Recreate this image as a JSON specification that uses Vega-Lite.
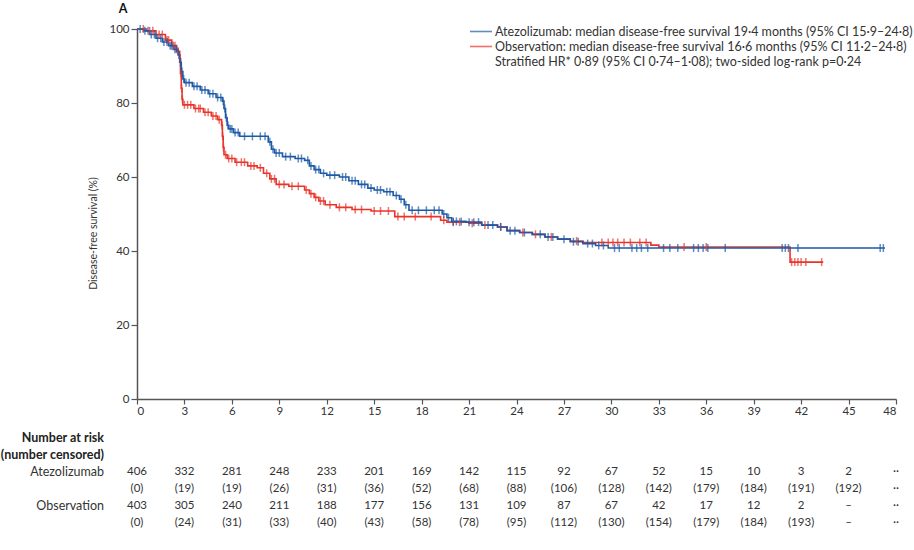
{
  "$schema": "https://vega.github.io/schema/vega-lite/v6.json",
  "background": "white",
  "padding": {"left": 0, "top": 3, "right": 5, "bottom": 0},
  "spacing": 12,
  "config": {
    "view": {"stroke": null},
    "font": "Lato",
    "text": {"font": "Lato"}
  },
  "datasets": {
    "curves": [
      {"arm":"Observation","month":0,"surv":100},{"arm":"Observation","month":0.6,"surv":99.5},{"arm":"Observation","month":1.2,"surv":98.5},{"arm":"Observation","month":1.8,"surv":97},{"arm":"Observation","month":2.2,"surv":95.5},{"arm":"Observation","month":2.5,"surv":94},{"arm":"Observation","month":2.7,"surv":92},{"arm":"Observation","month":2.75,"surv":88},{"arm":"Observation","month":2.8,"surv":84},{"arm":"Observation","month":2.85,"surv":81},{"arm":"Observation","month":2.9,"surv":79.5},{"arm":"Observation","month":3.6,"surv":78.5},{"arm":"Observation","month":4.2,"surv":77.5},{"arm":"Observation","month":4.7,"surv":76.5},{"arm":"Observation","month":5.1,"surv":75.5},{"arm":"Observation","month":5.35,"surv":74},{"arm":"Observation","month":5.4,"surv":71},{"arm":"Observation","month":5.45,"surv":68},{"arm":"Observation","month":5.5,"surv":66},{"arm":"Observation","month":5.7,"surv":65},{"arm":"Observation","month":6.2,"surv":64},{"arm":"Observation","month":7.0,"surv":63},{"arm":"Observation","month":7.6,"surv":62.5},{"arm":"Observation","month":8.0,"surv":61},{"arm":"Observation","month":8.4,"surv":59.5},{"arm":"Observation","month":8.8,"surv":58},{"arm":"Observation","month":9.6,"surv":57.5},{"arm":"Observation","month":10.6,"surv":56.5},{"arm":"Observation","month":10.9,"surv":55.5},{"arm":"Observation","month":11.2,"surv":54.5},{"arm":"Observation","month":11.5,"surv":53.5},{"arm":"Observation","month":11.9,"surv":52.5},{"arm":"Observation","month":12.6,"surv":51.8},{"arm":"Observation","month":13.6,"surv":51.2},{"arm":"Observation","month":14.8,"surv":50.8},{"arm":"Observation","month":16.3,"surv":49.3},{"arm":"Observation","month":19.2,"surv":48.3},{"arm":"Observation","month":19.6,"surv":47.8},{"arm":"Observation","month":21.0,"surv":47.5},{"arm":"Observation","month":21.8,"surv":47},{"arm":"Observation","month":22.8,"surv":46.5},{"arm":"Observation","month":23.4,"surv":45.5},{"arm":"Observation","month":24.2,"surv":45},{"arm":"Observation","month":25.0,"surv":44.5},{"arm":"Observation","month":25.8,"surv":43.8},{"arm":"Observation","month":26.6,"surv":43.2},{"arm":"Observation","month":27.4,"surv":42.7},{"arm":"Observation","month":28.2,"surv":42.3},{"arm":"Observation","month":32.5,"surv":41.6},{"arm":"Observation","month":33.0,"surv":41.1},{"arm":"Observation","month":41.3,"surv":37},{"arm":"Observation","month":43.4,"surv":37},
      {"arm":"Atezolizumab","month":0,"surv":100},{"arm":"Atezolizumab","month":0.4,"surv":99.5},{"arm":"Atezolizumab","month":0.8,"surv":98.5},{"arm":"Atezolizumab","month":1.2,"surv":97.5},{"arm":"Atezolizumab","month":1.6,"surv":96.5},{"arm":"Atezolizumab","month":2.0,"surv":95.5},{"arm":"Atezolizumab","month":2.3,"surv":94.5},{"arm":"Atezolizumab","month":2.6,"surv":93},{"arm":"Atezolizumab","month":2.7,"surv":91},{"arm":"Atezolizumab","month":2.8,"surv":88.5},{"arm":"Atezolizumab","month":2.9,"surv":86.5},{"arm":"Atezolizumab","month":3.0,"surv":85.5},{"arm":"Atezolizumab","month":3.5,"surv":84.5},{"arm":"Atezolizumab","month":4.0,"surv":83.5},{"arm":"Atezolizumab","month":4.5,"surv":82.5},{"arm":"Atezolizumab","month":5.0,"surv":81.5},{"arm":"Atezolizumab","month":5.4,"surv":80.5},{"arm":"Atezolizumab","month":5.5,"surv":78.5},{"arm":"Atezolizumab","month":5.6,"surv":76},{"arm":"Atezolizumab","month":5.7,"surv":74},{"arm":"Atezolizumab","month":5.8,"surv":73},{"arm":"Atezolizumab","month":6.1,"surv":72},{"arm":"Atezolizumab","month":6.5,"surv":71},{"arm":"Atezolizumab","month":8.3,"surv":69.5},{"arm":"Atezolizumab","month":8.5,"surv":67.5},{"arm":"Atezolizumab","month":8.7,"surv":66.5},{"arm":"Atezolizumab","month":9.2,"surv":65.5},{"arm":"Atezolizumab","month":10.0,"surv":65},{"arm":"Atezolizumab","month":10.6,"surv":64.5},{"arm":"Atezolizumab","month":10.9,"surv":63},{"arm":"Atezolizumab","month":11.2,"surv":62},{"arm":"Atezolizumab","month":11.6,"surv":61},{"arm":"Atezolizumab","month":12.0,"surv":60.5},{"arm":"Atezolizumab","month":12.8,"surv":60},{"arm":"Atezolizumab","month":13.4,"surv":59},{"arm":"Atezolizumab","month":14.0,"surv":58},{"arm":"Atezolizumab","month":14.6,"surv":57},{"arm":"Atezolizumab","month":15.0,"surv":56.5},{"arm":"Atezolizumab","month":15.6,"surv":56},{"arm":"Atezolizumab","month":16.2,"surv":55},{"arm":"Atezolizumab","month":16.6,"surv":54},{"arm":"Atezolizumab","month":16.9,"surv":52.5},{"arm":"Atezolizumab","month":17.2,"surv":51},{"arm":"Atezolizumab","month":19.3,"surv":50},{"arm":"Atezolizumab","month":19.6,"surv":49},{"arm":"Atezolizumab","month":19.9,"surv":48},{"arm":"Atezolizumab","month":20.8,"surv":47.8},{"arm":"Atezolizumab","month":21.8,"surv":47},{"arm":"Atezolizumab","month":22.8,"surv":46.5},{"arm":"Atezolizumab","month":23.4,"surv":45.5},{"arm":"Atezolizumab","month":24.2,"surv":45},{"arm":"Atezolizumab","month":25.0,"surv":44.5},{"arm":"Atezolizumab","month":25.8,"surv":43.8},{"arm":"Atezolizumab","month":26.6,"surv":43.2},{"arm":"Atezolizumab","month":27.4,"surv":42.5},{"arm":"Atezolizumab","month":28.2,"surv":42},{"arm":"Atezolizumab","month":29.0,"surv":41.5},{"arm":"Atezolizumab","month":29.8,"surv":40.8},{"arm":"Atezolizumab","month":47.3,"surv":40.8}
    ],
    "censors": [
      {"arm":"Observation","month":0.4,"surv":100},{"arm":"Observation","month":0.8,"surv":99.5},{"arm":"Observation","month":1.0,"surv":99.5},{"arm":"Observation","month":1.4,"surv":98.5},{"arm":"Observation","month":1.6,"surv":98.5},{"arm":"Observation","month":1.9,"surv":97},{"arm":"Observation","month":2.0,"surv":97},{"arm":"Observation","month":2.3,"surv":95.5},{"arm":"Observation","month":2.4,"surv":95.5},{"arm":"Observation","month":2.6,"surv":94},{"arm":"Observation","month":2.72,"surv":92},{"arm":"Observation","month":2.78,"surv":88},{"arm":"Observation","month":2.82,"surv":84},{"arm":"Observation","month":2.87,"surv":81},{"arm":"Observation","month":3.0,"surv":79.5},{"arm":"Observation","month":3.2,"surv":79.5},{"arm":"Observation","month":3.4,"surv":79.5},{"arm":"Observation","month":3.7,"surv":78.5},{"arm":"Observation","month":3.9,"surv":78.5},{"arm":"Observation","month":4.0,"surv":78.5},{"arm":"Observation","month":4.3,"surv":77.5},{"arm":"Observation","month":4.5,"surv":77.5},{"arm":"Observation","month":4.8,"surv":76.5},{"arm":"Observation","month":5.0,"surv":76.5},{"arm":"Observation","month":5.2,"surv":75.5},{"arm":"Observation","month":5.38,"surv":74},{"arm":"Observation","month":5.42,"surv":71},{"arm":"Observation","month":5.47,"surv":68},{"arm":"Observation","month":5.6,"surv":66},{"arm":"Observation","month":5.8,"surv":65},{"arm":"Observation","month":6.0,"surv":65},{"arm":"Observation","month":6.3,"surv":64},{"arm":"Observation","month":6.6,"surv":64},{"arm":"Observation","month":6.8,"surv":64},{"arm":"Observation","month":7.2,"surv":63},{"arm":"Observation","month":7.4,"surv":63},{"arm":"Observation","month":7.8,"surv":62.5},{"arm":"Observation","month":8.2,"surv":61},{"arm":"Observation","month":8.5,"surv":59.5},{"arm":"Observation","month":8.7,"surv":59.5},{"arm":"Observation","month":9.0,"surv":58},{"arm":"Observation","month":9.3,"surv":58},{"arm":"Observation","month":9.8,"surv":57.5},{"arm":"Observation","month":10.2,"surv":57.5},{"arm":"Observation","month":10.7,"surv":56.5},{"arm":"Observation","month":11.0,"surv":55.5},{"arm":"Observation","month":11.3,"surv":54.5},{"arm":"Observation","month":11.6,"surv":53.5},{"arm":"Observation","month":11.8,"surv":53.5},{"arm":"Observation","month":12.2,"surv":52.5},{"arm":"Observation","month":12.8,"surv":51.8},{"arm":"Observation","month":13.2,"surv":51.8},{"arm":"Observation","month":13.8,"surv":51.2},{"arm":"Observation","month":14.2,"surv":51.2},{"arm":"Observation","month":15.0,"surv":50.8},{"arm":"Observation","month":15.4,"surv":50.8},{"arm":"Observation","month":15.9,"surv":50.8},{"arm":"Observation","month":16.5,"surv":49.3},{"arm":"Observation","month":16.9,"surv":49.3},{"arm":"Observation","month":17.6,"surv":49.3},{"arm":"Observation","month":18.6,"surv":49.3},{"arm":"Observation","month":19.4,"surv":48.3},{"arm":"Observation","month":20.0,"surv":47.8},{"arm":"Observation","month":20.4,"surv":47.8},{"arm":"Observation","month":21.2,"surv":47.5},{"arm":"Observation","month":22.0,"surv":47},{"arm":"Observation","month":23.0,"surv":46.5},{"arm":"Observation","month":24.4,"surv":45},{"arm":"Observation","month":25.2,"surv":44.5},{"arm":"Observation","month":26.2,"surv":43.8},{"arm":"Observation","month":27.8,"surv":42.7},{"arm":"Observation","month":29.4,"surv":42.3},{"arm":"Observation","month":29.8,"surv":42.3},{"arm":"Observation","month":30.1,"surv":42.3},{"arm":"Observation","month":30.4,"surv":42.3},{"arm":"Observation","month":30.8,"surv":42.3},{"arm":"Observation","month":31.2,"surv":42.3},{"arm":"Observation","month":31.8,"surv":42.3},{"arm":"Observation","month":32.2,"surv":42.3},{"arm":"Observation","month":34.6,"surv":41.1},{"arm":"Observation","month":36.0,"surv":41.1},{"arm":"Observation","month":41.4,"surv":37},{"arm":"Observation","month":41.6,"surv":37},{"arm":"Observation","month":41.8,"surv":37},{"arm":"Observation","month":42.0,"surv":37},{"arm":"Observation","month":42.3,"surv":37},{"arm":"Observation","month":43.3,"surv":37},
      {"arm":"Atezolizumab","month":0.2,"surv":100},{"arm":"Atezolizumab","month":0.5,"surv":99.5},{"arm":"Atezolizumab","month":0.7,"surv":99.5},{"arm":"Atezolizumab","month":0.9,"surv":98.5},{"arm":"Atezolizumab","month":1.1,"surv":98.5},{"arm":"Atezolizumab","month":1.3,"surv":97.5},{"arm":"Atezolizumab","month":1.5,"surv":97.5},{"arm":"Atezolizumab","month":1.7,"surv":96.5},{"arm":"Atezolizumab","month":1.9,"surv":96.5},{"arm":"Atezolizumab","month":2.1,"surv":95.5},{"arm":"Atezolizumab","month":2.2,"surv":95.5},{"arm":"Atezolizumab","month":2.4,"surv":94.5},{"arm":"Atezolizumab","month":2.5,"surv":94.5},{"arm":"Atezolizumab","month":2.65,"surv":93},{"arm":"Atezolizumab","month":2.75,"surv":91},{"arm":"Atezolizumab","month":2.85,"surv":88.5},{"arm":"Atezolizumab","month":2.95,"surv":86.5},{"arm":"Atezolizumab","month":3.1,"surv":85.5},{"arm":"Atezolizumab","month":3.3,"surv":85.5},{"arm":"Atezolizumab","month":3.6,"surv":84.5},{"arm":"Atezolizumab","month":3.8,"surv":84.5},{"arm":"Atezolizumab","month":4.1,"surv":83.5},{"arm":"Atezolizumab","month":4.3,"surv":83.5},{"arm":"Atezolizumab","month":4.6,"surv":82.5},{"arm":"Atezolizumab","month":4.8,"surv":82.5},{"arm":"Atezolizumab","month":5.1,"surv":81.5},{"arm":"Atezolizumab","month":5.3,"surv":81.5},{"arm":"Atezolizumab","month":5.45,"surv":80.5},{"arm":"Atezolizumab","month":5.55,"surv":78.5},{"arm":"Atezolizumab","month":5.65,"surv":76},{"arm":"Atezolizumab","month":5.75,"surv":74},{"arm":"Atezolizumab","month":5.9,"surv":73},{"arm":"Atezolizumab","month":6.0,"surv":73},{"arm":"Atezolizumab","month":6.2,"surv":72},{"arm":"Atezolizumab","month":6.4,"surv":72},{"arm":"Atezolizumab","month":6.8,"surv":71},{"arm":"Atezolizumab","month":7.3,"surv":71},{"arm":"Atezolizumab","month":7.8,"surv":71},{"arm":"Atezolizumab","month":8.1,"surv":71},{"arm":"Atezolizumab","month":8.4,"surv":69.5},{"arm":"Atezolizumab","month":8.6,"surv":67.5},{"arm":"Atezolizumab","month":8.8,"surv":66.5},{"arm":"Atezolizumab","month":9.0,"surv":66.5},{"arm":"Atezolizumab","month":9.4,"surv":65.5},{"arm":"Atezolizumab","month":9.7,"surv":65.5},{"arm":"Atezolizumab","month":10.2,"surv":65},{"arm":"Atezolizumab","month":10.4,"surv":65},{"arm":"Atezolizumab","month":10.8,"surv":64.5},{"arm":"Atezolizumab","month":11.0,"surv":63},{"arm":"Atezolizumab","month":11.3,"surv":62},{"arm":"Atezolizumab","month":11.5,"surv":62},{"arm":"Atezolizumab","month":11.8,"surv":61},{"arm":"Atezolizumab","month":12.2,"surv":60.5},{"arm":"Atezolizumab","month":12.5,"surv":60.5},{"arm":"Atezolizumab","month":13.0,"surv":60},{"arm":"Atezolizumab","month":13.2,"surv":60},{"arm":"Atezolizumab","month":13.6,"surv":59},{"arm":"Atezolizumab","month":13.8,"surv":59},{"arm":"Atezolizumab","month":14.2,"surv":58},{"arm":"Atezolizumab","month":14.4,"surv":58},{"arm":"Atezolizumab","month":14.8,"surv":57},{"arm":"Atezolizumab","month":15.2,"surv":56.5},{"arm":"Atezolizumab","month":15.4,"surv":56.5},{"arm":"Atezolizumab","month":15.8,"surv":56},{"arm":"Atezolizumab","month":16.0,"surv":56},{"arm":"Atezolizumab","month":16.4,"surv":55},{"arm":"Atezolizumab","month":16.7,"surv":54},{"arm":"Atezolizumab","month":17.0,"surv":52.5},{"arm":"Atezolizumab","month":17.4,"surv":51},{"arm":"Atezolizumab","month":17.8,"surv":51},{"arm":"Atezolizumab","month":18.3,"surv":51},{"arm":"Atezolizumab","month":18.8,"surv":51},{"arm":"Atezolizumab","month":19.1,"surv":51},{"arm":"Atezolizumab","month":19.4,"surv":50},{"arm":"Atezolizumab","month":19.7,"surv":49},{"arm":"Atezolizumab","month":20.0,"surv":48},{"arm":"Atezolizumab","month":20.2,"surv":48},{"arm":"Atezolizumab","month":20.5,"surv":48},{"arm":"Atezolizumab","month":21.0,"surv":47.8},{"arm":"Atezolizumab","month":21.3,"surv":47.8},{"arm":"Atezolizumab","month":21.6,"surv":47.8},{"arm":"Atezolizumab","month":22.2,"surv":47},{"arm":"Atezolizumab","month":22.5,"surv":47},{"arm":"Atezolizumab","month":23.0,"surv":46.5},{"arm":"Atezolizumab","month":23.6,"surv":45.5},{"arm":"Atezolizumab","month":23.9,"surv":45.5},{"arm":"Atezolizumab","month":24.5,"surv":45},{"arm":"Atezolizumab","month":25.5,"surv":44.5},{"arm":"Atezolizumab","month":26.0,"surv":43.8},{"arm":"Atezolizumab","month":26.3,"surv":43.8},{"arm":"Atezolizumab","month":27.0,"surv":43.2},{"arm":"Atezolizumab","month":27.6,"surv":42.5},{"arm":"Atezolizumab","month":27.9,"surv":42.5},{"arm":"Atezolizumab","month":28.5,"surv":42},{"arm":"Atezolizumab","month":28.8,"surv":42},{"arm":"Atezolizumab","month":29.2,"surv":41.5},{"arm":"Atezolizumab","month":29.5,"surv":41.5},{"arm":"Atezolizumab","month":30.2,"surv":40.8},{"arm":"Atezolizumab","month":30.5,"surv":40.8},{"arm":"Atezolizumab","month":31.3,"surv":40.8},{"arm":"Atezolizumab","month":31.6,"surv":40.8},{"arm":"Atezolizumab","month":31.9,"surv":40.8},{"arm":"Atezolizumab","month":32.3,"surv":40.8},{"arm":"Atezolizumab","month":33.3,"surv":40.8},{"arm":"Atezolizumab","month":33.7,"surv":40.8},{"arm":"Atezolizumab","month":34.2,"surv":40.8},{"arm":"Atezolizumab","month":35.2,"surv":40.8},{"arm":"Atezolizumab","month":35.5,"surv":40.8},{"arm":"Atezolizumab","month":35.8,"surv":40.8},{"arm":"Atezolizumab","month":36.1,"surv":40.8},{"arm":"Atezolizumab","month":37.2,"surv":40.8},{"arm":"Atezolizumab","month":40.8,"surv":40.8},{"arm":"Atezolizumab","month":41.0,"surv":40.8},{"arm":"Atezolizumab","month":41.2,"surv":40.8},{"arm":"Atezolizumab","month":41.8,"surv":40.8},{"arm":"Atezolizumab","month":47.0,"surv":40.8},{"arm":"Atezolizumab","month":47.2,"surv":40.8}
    ],
    "risk": [
      {"row":"A_n","month":0,"value":"406"},{"row":"A_n","month":3,"value":"332"},{"row":"A_n","month":6,"value":"281"},{"row":"A_n","month":9,"value":"248"},{"row":"A_n","month":12,"value":"233"},{"row":"A_n","month":15,"value":"201"},{"row":"A_n","month":18,"value":"169"},{"row":"A_n","month":21,"value":"142"},{"row":"A_n","month":24,"value":"115"},{"row":"A_n","month":27,"value":"92"},{"row":"A_n","month":30,"value":"67"},{"row":"A_n","month":33,"value":"52"},{"row":"A_n","month":36,"value":"15"},{"row":"A_n","month":39,"value":"10"},{"row":"A_n","month":42,"value":"3"},{"row":"A_n","month":45,"value":"2"},{"row":"A_n","month":48,"value":"··"},
      {"row":"A_c","month":0,"value":"(0)"},{"row":"A_c","month":3,"value":"(19)"},{"row":"A_c","month":6,"value":"(19)"},{"row":"A_c","month":9,"value":"(26)"},{"row":"A_c","month":12,"value":"(31)"},{"row":"A_c","month":15,"value":"(36)"},{"row":"A_c","month":18,"value":"(52)"},{"row":"A_c","month":21,"value":"(68)"},{"row":"A_c","month":24,"value":"(88)"},{"row":"A_c","month":27,"value":"(106)"},{"row":"A_c","month":30,"value":"(128)"},{"row":"A_c","month":33,"value":"(142)"},{"row":"A_c","month":36,"value":"(179)"},{"row":"A_c","month":39,"value":"(184)"},{"row":"A_c","month":42,"value":"(191)"},{"row":"A_c","month":45,"value":"(192)"},{"row":"A_c","month":48,"value":"··"},
      {"row":"O_n","month":0,"value":"403"},{"row":"O_n","month":3,"value":"305"},{"row":"O_n","month":6,"value":"240"},{"row":"O_n","month":9,"value":"211"},{"row":"O_n","month":12,"value":"188"},{"row":"O_n","month":15,"value":"177"},{"row":"O_n","month":18,"value":"156"},{"row":"O_n","month":21,"value":"131"},{"row":"O_n","month":24,"value":"109"},{"row":"O_n","month":27,"value":"87"},{"row":"O_n","month":30,"value":"67"},{"row":"O_n","month":33,"value":"42"},{"row":"O_n","month":36,"value":"17"},{"row":"O_n","month":39,"value":"12"},{"row":"O_n","month":42,"value":"2"},{"row":"O_n","month":45,"value":"–"},{"row":"O_n","month":48,"value":"··"},
      {"row":"O_c","month":0,"value":"(0)"},{"row":"O_c","month":3,"value":"(24)"},{"row":"O_c","month":6,"value":"(31)"},{"row":"O_c","month":9,"value":"(33)"},{"row":"O_c","month":12,"value":"(40)"},{"row":"O_c","month":15,"value":"(43)"},{"row":"O_c","month":18,"value":"(58)"},{"row":"O_c","month":21,"value":"(78)"},{"row":"O_c","month":24,"value":"(95)"},{"row":"O_c","month":27,"value":"(112)"},{"row":"O_c","month":30,"value":"(130)"},{"row":"O_c","month":33,"value":"(154)"},{"row":"O_c","month":36,"value":"(179)"},{"row":"O_c","month":39,"value":"(184)"},{"row":"O_c","month":42,"value":"(193)"},{"row":"O_c","month":45,"value":"–"},{"row":"O_c","month":48,"value":"··"}
    ]
  },
  "vconcat": [
    {
      "width": 759,
      "height": 370,
      "layer": [
        {
          "data": {"name": "curves"},
          "mark": {"type": "line", "interpolate": "step-after", "strokeWidth": 1.6},
          "encoding": {
            "x": {"field": "month", "type": "quantitative", "scale": {"domain": [0, 48], "nice": false},
                  "axis": {"values": [0,3,6,9,12,15,18,21,24,27,30,33,36,39,42,45,48], "title": null, "grid": false, "tickSize": 5, "labelFontSize": 11.5, "labelColor": "#333", "domainColor": "#555", "tickColor": "#555", "domainWidth": 1.5, "tickWidth": 1.2, "labelPadding": 1, "labelFont": "Lato"}},
            "y": {"field": "surv", "type": "quantitative", "scale": {"domain": [0, 100], "nice": false},
                  "axis": {"values": [0,20,40,60,80,100], "title": "Disease-free survival (%)", "grid": false, "tickSize": 6, "labelFontSize": 11.5, "labelColor": "#333", "domainColor": "#555", "tickColor": "#555", "domainWidth": 1.5, "tickWidth": 1.2, "labelPadding": 2, "titleFontSize": 10.5, "titleFontWeight": "normal", "titleColor": "#333", "titlePadding": 10, "titleY": 204, "labelFont": "Lato", "titleFont": "Lato"}},
            "color": {"field": "arm", "type": "nominal",
                      "scale": {"domain": ["Atezolizumab", "Observation", "HR"], "range": ["#1d5aa6", "#e8342b", "rgba(255,255,255,0)"]},
                      "legend": {"orient": "none", "legendX": 332, "legendY": -5, "title": null, "symbolType": "stroke", "symbolSize": 484, "symbolStrokeWidth": 1.6, "labelFontSize": 12.5, "labelColor": "#333", "labelFont": "Lato", "labelLimit": 0, "rowPadding": 0, "clipHeight": 15, "labelOffset": 2,
                                 "labelExpr": "datum.value === 'Atezolizumab' ? 'Atezolizumab: median disease-free survival 19·4 months (95% CI 15·9–24·8)' : datum.value === 'Observation' ? 'Observation: median disease-free survival 16·6 months (95% CI 11·2–24·8)' : 'Stratified HR* 0·89 (95% CI 0·74–1·08); two-sided log-rank p=0·24'"}}
          }
        },
        {
          "data": {"name": "censors"},
          "mark": {"type": "tick", "orient": "vertical", "size": 8, "thickness": 1.5},
          "encoding": {
            "x": {"field": "month", "type": "quantitative"},
            "y": {"field": "surv", "type": "quantitative"},
            "color": {"field": "arm", "type": "nominal"}
          }
        },
        {
          "data": {"values": [{"label": "A"}]},
          "mark": {"type": "text", "fontWeight": "bold", "fontSize": 12.5, "dx": -14, "dy": -16, "baseline": "alphabetic", "color": "#111", "font": "Lato"},
          "encoding": {
            "x": {"datum": 0, "type": "quantitative"},
            "y": {"datum": 100, "type": "quantitative"},
            "text": {"field": "label"}
          }
        }
      ]
    },
    {
      "width": 759,
      "height": 103,
      "layer": [
        {
          "data": {"name": "risk"},
          "mark": {"type": "text", "fontSize": 11.5, "color": "#333", "font": "Lato"},
          "encoding": {
            "x": {"field": "month", "type": "quantitative", "scale": {"domain": [0, 48], "nice": false}, "axis": null},
            "y": {"field": "row", "type": "nominal", "scale": {"domain": ["h1", "h2", "A_n", "A_c", "O_n", "O_c"], "paddingInner": 0, "paddingOuter": 0}, "axis": null},
            "text": {"field": "value"}
          }
        },
        {
          "data": {"values": [{"row": "h1", "label": "Number at risk"}, {"row": "h2", "label": "(number censored)"}]},
          "mark": {"type": "text", "align": "right", "dx": -33, "fontSize": 12.5, "fontWeight": "bold", "color": "#222", "font": "Lato"},
          "encoding": {
            "x": {"datum": 0, "type": "quantitative"},
            "y": {"field": "row", "type": "nominal"},
            "text": {"field": "label"}
          }
        },
        {
          "data": {"values": [{"row": "A_n", "label": "Atezolizumab"}, {"row": "O_n", "label": "Observation"}]},
          "mark": {"type": "text", "align": "right", "dx": -33, "fontSize": 12.5, "color": "#333", "font": "Lato"},
          "encoding": {
            "x": {"datum": 0, "type": "quantitative"},
            "y": {"field": "row", "type": "nominal"},
            "text": {"field": "label"}
          }
        }
      ]
    }
  ]
}
